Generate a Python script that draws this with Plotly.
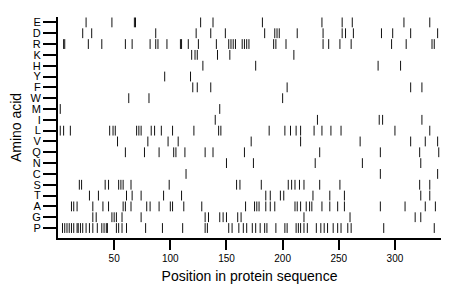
import plotly.graph_objects as go

amino_acids = ["P", "G", "A", "T", "S", "C", "N", "Q", "V", "L",
               "I", "M", "W", "F", "Y", "H", "K", "R", "D", "E"]

pos_E = [25, 48, 68, 69, 127, 138, 182, 235, 253, 262, 308, 331]
pos_D = [22, 30, 87, 123, 136, 149, 184, 193, 195, 197, 213, 236, 253, 256, 263, 288, 298, 314, 338]
pos_R = [5, 6, 27, 39, 60, 66, 82, 87, 89, 97, 109, 110, 116, 125, 141, 152, 154, 156, 158,
         164, 166, 168, 170, 192, 194, 203, 236, 241, 251, 261, 297, 310, 333, 335]
pos_K = [119, 122, 124, 142, 153, 210]
pos_H = [129, 176, 285, 305]
pos_Y = [95, 118]
pos_F = [120, 124, 136, 204, 314, 324]
pos_W = [63, 81, 200]
pos_M = [2, 144]
pos_I = [140, 231, 286, 289, 324]
pos_L = [2, 5, 11, 46, 49, 51, 70, 72, 74, 83, 86, 92, 102, 121, 143, 145, 188, 202, 207,
         212, 216, 228, 235, 243, 252, 300, 331]
pos_V = [53, 80, 98, 107, 172, 216, 269, 314, 327, 338]
pos_Q = [60, 77, 90, 103, 105, 113, 131, 138, 166, 233, 287, 322, 339]
pos_N = [150, 174, 229, 271, 323]
pos_C = [114, 287, 338]
pos_S = [19, 21, 42, 45, 54, 56, 58, 65, 99, 159, 162, 181, 205, 208, 211, 215, 219,
         233, 251, 322, 331]
pos_T = [28, 36, 61, 66, 74, 94, 110, 185, 189, 198, 201, 227, 242, 255, 323, 331]
pos_A = [12, 14, 17, 31, 40, 45, 58, 60, 65, 79, 82, 90, 100, 102, 112, 128, 167, 175, 177,
         179, 185, 189, 193, 211, 213, 216, 221, 224, 226, 235, 242, 249, 255, 287, 309,
         327, 336]
pos_G = [31, 34, 48, 50, 52, 57, 74, 131, 134, 144, 147, 150, 160, 163, 219, 260, 318, 323]
pos_P = [4, 6, 8, 10, 12, 14, 17, 18, 20, 22, 25, 28, 31, 35, 39, 41, 43, 44, 52, 54, 57, 61,
         78, 93, 111, 131, 133, 152, 155, 161, 165, 168, 173, 176, 180, 184, 186, 194, 202,
         204, 212, 214, 216, 219, 222, 230, 234, 237, 240, 245, 249, 252, 258, 261, 290, 335]

x_ticks = [50, 100, 150, 200, 250, 300]

positions = {
    "E": pos_E, "D": pos_D, "R": pos_R, "K": pos_K, "H": pos_H, "Y": pos_Y,
    "F": pos_F, "W": pos_W, "M": pos_M, "I": pos_I, "L": pos_L, "V": pos_V,
    "Q": pos_Q, "N": pos_N, "C": pos_C, "S": pos_S, "T": pos_T, "A": pos_A,
    "G": pos_G, "P": pos_P,
}

xs, ys = [], []
for aa in amino_acids:
    for p in positions[aa]:
        xs.append(p)
        ys.append(aa)

fig = go.Figure()
fig.add_trace(go.Scatter(
    x=xs, y=ys, mode="markers",
    marker=dict(symbol="line-ns", size=7, line=dict(width=1, color="#111111"), color="#111111"),
    hoverinfo="x+y", showlegend=False,
))

font_family = "Liberation Sans, Arial, sans-serif"
fig.update_layout(
    width=460, height=299,
    margin=dict(l=50, r=27, t=9, b=69, autoexpand=False),
    paper_bgcolor="white", plot_bgcolor="white",
    font=dict(family=font_family, color="black"),
    xaxis=dict(
        range=[0, 341], tickmode="array", tickvals=x_ticks, ticks="outside", ticklen=10,
        tickwidth=1.5, tickcolor="black", showline=True, linecolor="black", linewidth=2,
        showgrid=False, zeroline=False, tickfont=dict(size=10), automargin=False,
        title=dict(text="Position in protein sequence", font=dict(size=14), standoff=8),
    ),
    yaxis=dict(
        type="category", categoryorder="array", categoryarray=amino_acids,
        tickmode="array", tickvals=amino_acids, ticktext=amino_acids,
        range=[-0.92, 19.5], ticks="outside", ticklen=13, tickwidth=1.5,
        tickcolor="black", showline=True, linecolor="black", linewidth=2,
        showgrid=False, zeroline=False, tickfont=dict(size=11), automargin=False,
        title=dict(text="Amino acid", font=dict(size=14), standoff=6),
    ),
)

fig.write_html("out.html")
